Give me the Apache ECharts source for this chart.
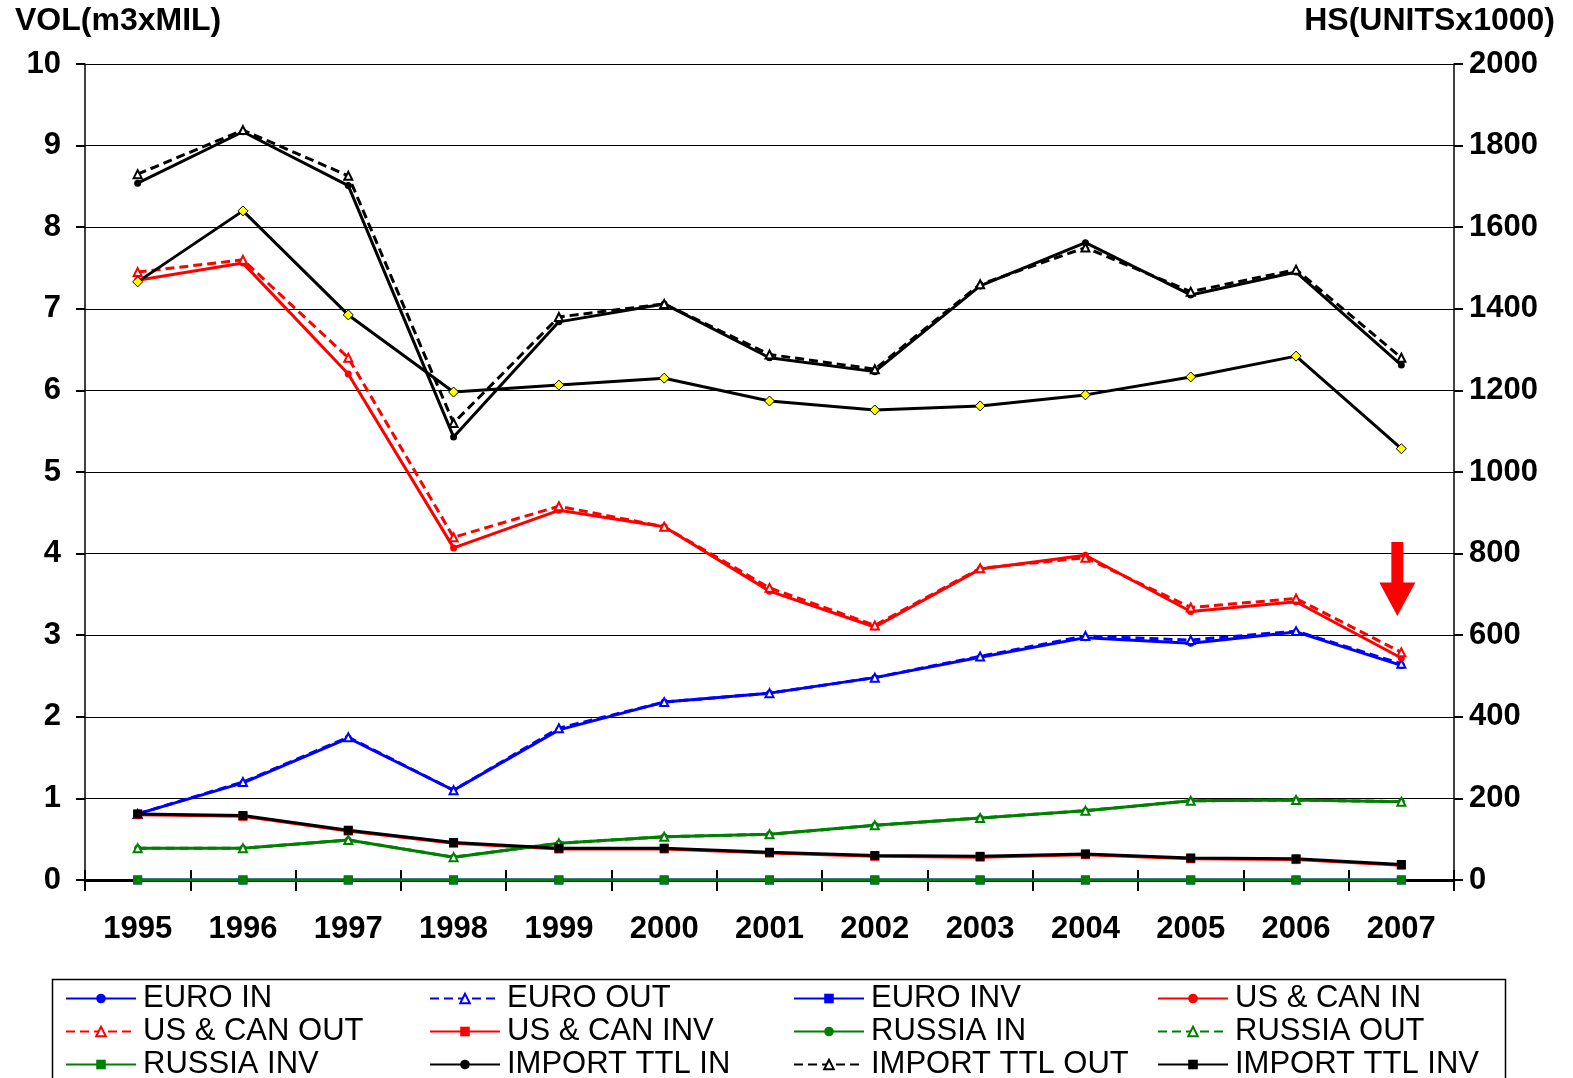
<!DOCTYPE html>
<html>
<head>
<meta charset="utf-8">
<script src="https://cdn.jsdelivr.net/npm/echarts@6/dist/echarts.min.js"></script>
<style>
  html, body { margin: 0; padding: 0; background: #fff; }
  #chart { width: 1573px; height: 1078px; }
</style>
</head>
<body>
<div id="chart"></div>
<script>
// years on the x axis
var years = ['1995', '1996', '1997', '1998', '1999', '2000', '2001', '2002', '2003', '2004', '2005', '2006', '2007'];

// volumes, m3 x million (left axis)
var euroIn = [0.81, 1.19, 1.74, 1.10, 1.84, 2.18, 2.29, 2.48, 2.73, 2.97, 2.90, 3.04, 2.63];
var euroOut = [0.81, 1.20, 1.75, 1.10, 1.86, 2.18, 2.29, 2.48, 2.74, 2.99, 2.94, 3.05, 2.65];
var euroInv = [0, 0, 0, 0, 0, 0, 0, 0, 0, 0, 0, 0, 0];
var usCanIn = [7.35, 7.56, 6.20, 4.07, 4.53, 4.33, 3.54, 3.10, 3.81, 3.98, 3.29, 3.41, 2.72];
var usCanOut = [7.45, 7.60, 6.40, 4.20, 4.58, 4.33, 3.58, 3.12, 3.82, 3.95, 3.34, 3.45, 2.79];
var usCanInv = [0.80, 0.78, 0.60, 0.45, 0.38, 0.38, 0.33, 0.29, 0.28, 0.31, 0.26, 0.25, 0.18];
var russiaIn = [0.39, 0.39, 0.49, 0.28, 0.45, 0.53, 0.56, 0.67, 0.76, 0.85, 0.97, 0.98, 0.96];
var russiaOut = [0.39, 0.39, 0.49, 0.28, 0.45, 0.53, 0.56, 0.67, 0.76, 0.85, 0.97, 0.98, 0.96];
var russiaInv = [0, 0, 0, 0, 0, 0, 0, 0, 0, 0, 0, 0, 0];
var importIn = [8.54, 9.17, 8.51, 5.43, 6.84, 7.06, 6.40, 6.23, 7.28, 7.81, 7.17, 7.45, 6.31];
var importOut = [8.65, 9.19, 8.63, 5.60, 6.90, 7.06, 6.44, 6.26, 7.30, 7.75, 7.21, 7.48, 6.40];
var importInv = [0.81, 0.79, 0.61, 0.46, 0.39, 0.39, 0.34, 0.30, 0.29, 0.32, 0.27, 0.26, 0.19];

// housing starts, units x 1000 (right axis)
var housingStarts = [1466, 1640, 1385, 1196, 1213, 1230, 1174, 1152, 1162, 1189, 1233, 1284, 1057];

var leftTicks = { min: 0, max: 10, interval: 1 };
var rightTicks = { min: 0, max: 2000, interval: 200 };

var FONT = 'Liberation Sans, Arial, sans-serif';

function lineSeries(name, data, color, kind) {
  var s = {
    name: name,
    type: 'line',
    data: data,
    yAxisIndex: 0,
    showSymbol: true,
    symbolSize: 7,
    lineStyle: { color: color, width: 3 },
    itemStyle: { color: color },
    emphasis: { disabled: true },
    animation: false
  };
  if (kind == 'in') {
    s.symbol = 'circle';
  } else if (kind == 'out') {
    s.symbol = 'emptyTriangle';
    s.symbolSize = 8;
    s.lineStyle.type = [9, 5];
  } else {
    s.symbol = 'rect';
    s.symbolSize = 9;
  }
  return s;
}

var chart = echarts.init(document.getElementById('chart'));

var series = [
  lineSeries('EURO IN', euroIn, '#0000ff', 'in'),
  lineSeries('EURO OUT', euroOut, '#0000ff', 'out'),
  lineSeries('EURO INV', euroInv, '#0000ff', 'inv'),
  lineSeries('US & CAN IN', usCanIn, '#ff0000', 'in'),
  lineSeries('US & CAN OUT', usCanOut, '#ff0000', 'out'),
  lineSeries('US & CAN INV', usCanInv, '#ff0000', 'inv'),
  lineSeries('RUSSIA IN', russiaIn, '#008000', 'in'),
  lineSeries('RUSSIA OUT', russiaOut, '#008000', 'out'),
  lineSeries('RUSSIA INV', russiaInv, '#008000', 'inv'),
  lineSeries('IMPORT TTL IN', importIn, '#000000', 'in'),
  lineSeries('IMPORT TTL OUT', importOut, '#000000', 'out'),
  lineSeries('IMPORT TTL INV', importInv, '#000000', 'inv'),
  {
    name: 'HS',
    type: 'line',
    data: housingStarts,
    yAxisIndex: 1,
    symbol: 'diamond',
    symbolSize: 10,
    lineStyle: { color: '#000', width: 3 },
    itemStyle: { color: '#ffff00', borderColor: '#000', borderWidth: 1 },
    emphasis: { disabled: true },
    animation: false
  }
];

// red arrow pointing down at 2007
series[3].markPoint = {
  silent: true,
  symbol: 'path://M4,0 L8,0 L8,11 L12,11 L6,20 L0,11 L4,11 Z',
  symbolSize: [36, 74],
  symbolOffset: [-4, 0],
  itemStyle: { color: '#ff0000' },
  label: { show: false },
  data: [{ coord: ['2007', 3.69] }]
};

var option = {
  backgroundColor: '#fff',
  animation: false,
  grid: {
    left: 85,
    right: 119,
    top: 64,
    bottom: 198,
    containLabel: false,
    outerBoundsMode: 'none'
  },
  legend: {
    data: series.slice(0, 12).map(function (s) { return s.name; }),
    left: 50,
    top: 982,
    width: 1480,
    padding: [0, 0, 0, 15],
    orient: 'horizontal',
    itemWidth: 70,
    itemHeight: 12,
    itemGap: 0,
    selectedMode: false,
    textStyle: {
      fontFamily: FONT,
      fontSize: 31,
      color: '#000',
      width: 286,
      lineHeight: 33,
      padding: [0, 0, 0, 2]
    }
  },
  xAxis: [{
    type: 'category',
    data: years,
    boundaryGap: true,
    axisLine: { show: true, lineStyle: { color: '#000', width: 3 } },
    axisTick: { show: true, alignWithLabel: false, length: 11, lineStyle: { color: '#000', width: 2 } },
    axisLabel: { fontFamily: FONT, fontSize: 31, fontWeight: 'bold', color: '#000', margin: 34 },
    splitLine: { show: false }
  }, {
    type: 'category',
    data: years,
    position: 'bottom',
    boundaryGap: true,
    axisLine: { show: false },
    axisTick: { show: true, inside: true, length: 10, lineStyle: { color: '#000', width: 2 } },
    axisLabel: { show: false },
    splitLine: { show: false }
  }],
  yAxis: [{
    type: 'value',
    min: leftTicks.min,
    max: leftTicks.max,
    interval: leftTicks.interval,
    position: 'left',
    axisLine: { show: true, lineStyle: { color: '#000', width: 1.5 } },
    axisTick: { show: true, length: 9, lineStyle: { color: '#000', width: 2 } },
    axisLabel: { fontFamily: FONT, fontSize: 31, fontWeight: 'bold', color: '#000', margin: 24 },
    splitLine: { show: true, lineStyle: { color: '#000', width: 1.2 } }
  }, {
    type: 'value',
    min: rightTicks.min,
    max: rightTicks.max,
    interval: rightTicks.interval,
    position: 'right',
    axisLine: { show: true, lineStyle: { color: '#000', width: 1.5 } },
    axisTick: { show: true, length: 9, lineStyle: { color: '#000', width: 2 } },
    axisLabel: {
      fontFamily: FONT, fontSize: 31, fontWeight: 'bold', color: '#000', margin: 15,
      formatter: function (v) { return String(v); }
    },
    splitLine: { show: false }
  }],
  graphic: [{
    type: 'text',
    left: 15,
    top: 5,
    style: { text: 'VOL(m3xMIL)', fontFamily: FONT, fontSize: 32, fontWeight: 'bold', fill: '#000' }
  }, {
    type: 'text',
    right: 18,
    top: 5,
    style: { text: 'HS(UNITSx1000)', fontFamily: FONT, fontSize: 32, fontWeight: 'bold', fill: '#000' }
  }, {
    // legend frame, runs off the bottom edge as in the original
    type: 'rect',
    left: 50,
    top: 977,
    shape: { width: 1453, height: 130 },
    style: { fill: 'none', stroke: '#000', lineWidth: 1.5 },
    silent: true
  }],
  series: series
};

chart.setOption(option);
</script>
</body>
</html>
